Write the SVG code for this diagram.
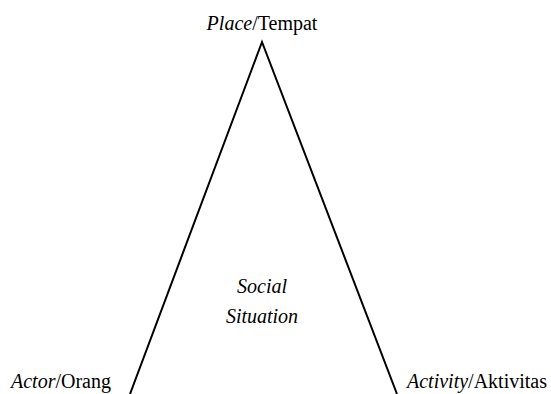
<svg xmlns="http://www.w3.org/2000/svg" width="551" height="394" viewBox="0 0 551 394">
<style>
text{font-family:'Liberation Serif','DejaVu Serif',serif;font-size:20px;fill:#000}
.i{font-style:italic}
.edge{stroke:#000;stroke-width:2;fill:none}
</style>
<rect width="551" height="394" fill="#fff"/>
<g id="connectors">
<polyline class="edge" points="130,394 262,42 397,394"/>
</g>
<g id="place"><text x="262" y="30" text-anchor="middle" font-family="Liberation Serif, serif"><tspan class="i">Place</tspan>/Tempat</text></g>
<g id="actor"><text x="11" y="388"><tspan class="i">Actor</tspan>/Orang</text></g>
<g id="activity"><text x="407" y="388"><tspan class="i">Activity</tspan>/Aktivitas</text></g>
<g id="social"><text class="i" x="262" y="293" text-anchor="middle">Social</text><text class="i" x="262" y="323" text-anchor="middle">Situation</text></g>
</svg>
